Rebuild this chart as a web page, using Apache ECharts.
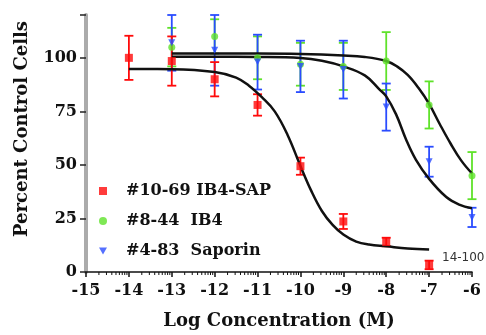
<!DOCTYPE html>
<html>
<head>
<meta charset="utf-8">
<script src="https://cdn.jsdelivr.net/npm/echarts@6/dist/echarts.min.js"></script>
<style>
  html, body { margin: 0; padding: 0; background: #fff; }
  #chart { width: 486px; height: 335px; }
</style>
</head>
<body>
<div id="chart"></div>
<script>
// log concentrations (M)
const logConc = [-14, -13, -12, -11, -10, -9, -8, -7, -6];

// #10-69 IB4-SAP (red squares), -14 .. -7
const sapX = [-14, -13, -12, -11, -10, -9, -8, -7];
const sapMean = [100, 98.5, 90, 78, 49.4, 23.6, 14, 3.3];
const sapErr = [10.3, 11.5, 8, 5, 4, 3.5, 2, 2];

// #8-44 IB4 (green circles), -13 .. -6
const ib4X = [-13, -12, -11, -10, -9, -8, -7, -6];
const ib4Mean = [105, 110, 100, 97, 96, 98.5, 78, 45];
const ib4Err = [9, 8, 10, 10, 11, 13.5, 11, 11];

// #4-83 Saporin (blue triangles), -13 .. -6
const sapoX = [-13, -12, -11, -10, -9, -8, -7, -6];
const sapoMean = [107, 103.5, 98, 96, 94.5, 77, 51.5, 25.5];
const sapoErr = [13, 16.5, 12.8, 12, 13.5, 11, 7, 4.5];

// fitted curves
const sapFitX = [-14, -13, -12, -11.5, -11.2, -10.9, -10.6, -10.3, -10, -9.75, -9.5, -9.25, -9, -8.7, -8.4, -8, -7.5, -7];
const sapFitY = [94.8, 94.7, 93.4, 90.8, 87, 81.6, 75, 64, 49.5, 38, 28.5, 22, 17.5, 14.2, 12.8, 12, 11, 10.5];

const ib4FitX = [-13, -11, -10, -9, -8.5, -8, -7.75, -7.5, -7.25, -7, -6.75, -6.5, -6.25, -6];
const ib4FitY = [102, 102, 101.8, 101.1, 100.4, 98.5, 96, 92, 86, 78.5, 69, 60, 52, 46];

const sapoFitX = [-13, -12, -11, -10, -9.5, -9, -8.5, -8.16, -8, -7.77, -7.54, -7.31, -7, -6.6, -6.3, -6];
const sapoFitY = [100.5, 100.5, 100.4, 99.9, 98.6, 96, 91.8, 85.3, 82, 73.6, 62, 52.5, 43.5, 35, 31.5, 29.8];

// minor ticks of the log axis
const decades = [-15, -14, -13, -12, -11, -10, -9, -8, -7];
const minorSteps = [2, 3, 4, 5, 6, 7, 8, 9];

const RED = '#ff0a0a';
const GREEN = '#5fe22a';
const BLUE = '#2a4cff';
const SERIF = '"DejaVu Serif", serif';

const zip = (xs, ys) => xs.map((x, i) => [x, ys[i]]);
const errData = (xs, m, e) => xs.map((x, i) => [x, m[i] - e[i], m[i] + e[i]]);

const minorData = [];
decades.forEach(d => minorSteps.forEach(k => minorData.push([d + Math.log10(k), 0])));

function errorBars(color) {
  return function (params, api) {
    const lo = api.coord([api.value(0), api.value(1)]);
    const hi = api.coord([api.value(0), api.value(2)]);
    const w = 4.5;
    const style = { stroke: color, lineWidth: 1.8 };
    return {
      type: 'group',
      children: [
        { type: 'line', shape: { x1: lo[0], y1: lo[1], x2: hi[0], y2: hi[1] }, style },
        { type: 'line', shape: { x1: lo[0] - w, y1: lo[1], x2: lo[0] + w, y2: lo[1] }, style },
        { type: 'line', shape: { x1: hi[0] - w, y1: hi[1], x2: hi[0] + w, y2: hi[1] }, style }
      ]
    };
  };
}

const chart = echarts.init(document.getElementById('chart'));

const option = {
  animation: false,
  backgroundColor: '#fff',
  grid: { left: 86, right: 14, top: 15, bottom: 63 },
  xAxis: {
    type: 'value',
    min: -15,
    max: -6,
    interval: 1,
    name: 'Log Concentration (M)',
    nameLocation: 'middle',
    nameGap: 40,
    nameTextStyle: { fontFamily: SERIF, fontWeight: 'bold', fontSize: 18, color: '#111' },
    axisLine: { onZero: false, lineStyle: { color: '#111', width: 1.5 } },
    axisTick: { length: 5, lineStyle: { color: '#111', width: 1.5 } },
    axisLabel: { margin: 11, fontFamily: SERIF, fontWeight: 'bold', fontSize: 16, color: '#111' },
    splitLine: { show: false }
  },
  yAxis: {
    type: 'value',
    min: 0,
    max: 120,
    interval: 25,
    axisLine: { show: true, lineStyle: { color: '#ababab', width: 4 } },
    axisTick: { length: 6, lineStyle: { color: '#222', width: 1.5 } },
    axisLabel: {
      margin: 9, fontFamily: SERIF, fontWeight: 'bold', fontSize: 16, color: '#111',
      formatter: v => (v % 25 === 0 && v <= 100 ? String(v) : '')
    },
    splitLine: { show: false }
  },
  legend: {
    orient: 'vertical',
    left: 94,
    top: 178,
    itemWidth: 8,
    itemHeight: 8,
    itemGap: 14,
    textStyle: { fontFamily: SERIF, fontWeight: 'bold', fontSize: 16, color: '#111', padding: [0, 0, 0, 14] },
    data: [
      { name: '#10-69 IB4-SAP', icon: 'rect' },
      { name: '#8-44  IB4', icon: 'circle' },
      { name: '#4-83  Saporin', icon: 'path://M0,0L10,0L5,9Z' }
    ]
  },
  graphic: [
    {
      type: 'text', x: 22, y: 129, rotation: Math.PI / 2,
      style: {
        text: 'Percent Control Cells', fontFamily: SERIF, fontWeight: 'bold', fontSize: 18,
        fill: '#111', align: 'center', verticalAlign: 'middle'
      }
    },
    {
      type: 'text', x: 442, y: 252,
      style: { text: '14-100', fontFamily: '"DejaVu Sans", sans-serif', fontSize: 12, fill: '#333' }
    }
  ],
  series: [
    {
      type: 'custom', name: 'minor', silent: true, clip: false, z: 1,
      renderItem: (params, api) => {
        const p = api.coord([api.value(0), 0]);
        return { type: 'line', shape: { x1: p[0], y1: p[1], x2: p[0], y2: p[1] + 3 }, style: { stroke: '#111', lineWidth: 1 } };
      },
      data: minorData
    },
    { type: 'custom', name: 'ib4err', renderItem: errorBars(GREEN), data: errData(ib4X, ib4Mean, ib4Err), clip: false, z: 2, encode: { x: 0, y: [1, 2] } },
    { type: 'custom', name: 'sapoerr', renderItem: errorBars(BLUE), data: errData(sapoX, sapoMean, sapoErr), clip: false, z: 2, encode: { x: 0, y: [1, 2] } },
    { type: 'custom', name: 'saperr', renderItem: errorBars(RED), data: errData(sapX, sapMean, sapErr), clip: false, z: 2, encode: { x: 0, y: [1, 2] } },
    { type: 'line', name: 'ib4fit', data: zip(ib4FitX, ib4FitY), smooth: 0.4, symbol: 'none', lineStyle: { color: '#111', width: 2.5 }, z: 3 },
    { type: 'line', name: 'sapofit', data: zip(sapoFitX, sapoFitY), smooth: 0.4, symbol: 'none', lineStyle: { color: '#111', width: 2.5 }, z: 3 },
    { type: 'line', name: 'sapfit', data: zip(sapFitX, sapFitY), smooth: 0.4, symbol: 'none', lineStyle: { color: '#111', width: 2.5 }, z: 3 },
    { type: 'scatter', name: '#8-44  IB4', data: zip(ib4X, ib4Mean), symbol: 'circle', symbolSize: 7, itemStyle: { color: GREEN }, z: 4 },
    { type: 'scatter', name: '#4-83  Saporin', data: zip(sapoX, sapoMean), symbol: 'triangle', symbolRotate: 180, symbolSize: 7, itemStyle: { color: BLUE }, z: 4 },
    { type: 'scatter', name: '#10-69 IB4-SAP', data: zip(sapX, sapMean), symbol: 'rect', symbolSize: 8, itemStyle: { color: RED }, z: 5 }
  ]
};

chart.setOption(option);
</script>
</body>
</html>
